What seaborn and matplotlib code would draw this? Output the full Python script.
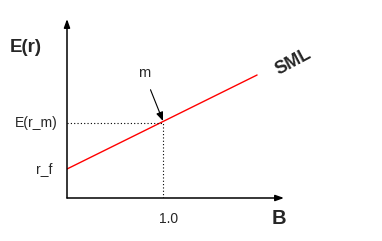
import matplotlib
matplotlib.use("Agg")
import matplotlib.pyplot as plt
import seaborn as sns
import pandas as pd

# Data
sml_beta = [0.0, 1.98]
sml_return = [2.9, 12.3]
market_beta = 1.0
market_return = 7.5
risk_free = 2.9
x_tick_label = "1.0"
y_labels = ["r_f", "E(r_m)"]

sns.set_style("white")
plt.rcParams['font.family'] = ['Liberation Sans', 'DejaVu Sans']

fig = plt.figure(figsize=(3.82, 2.41), dpi=100)
ax = fig.add_axes([67/382, 43/241, 217/382, 179/241])
ax.set_xlim(0, 217/96)
ax.set_ylim(0, 17.9)
for s in ax.spines.values():
    s.set_visible(False)
ax.set_xticks([])
ax.set_yticks([])
ax.patch.set_alpha(0)

df = pd.DataFrame({"beta": sml_beta, "ret": sml_return})
sns.lineplot(data=df, x="beta", y="ret", ax=ax, color="red", linewidth=1.0)
ax.set_xlabel("")
ax.set_ylabel("")

# axes arrows
arrow_kw = dict(arrowstyle="-|>,head_length=0.5,head_width=0.18", color="black", lw=1.1,
                shrinkA=0, shrinkB=0)
ax.annotate("", xy=(0, 1), xytext=(0, 0), xycoords="axes fraction",
            textcoords="axes fraction", arrowprops=arrow_kw, annotation_clip=False)
ax.annotate("", xy=(1, 0), xytext=(0, 0), xycoords="axes fraction",
            textcoords="axes fraction", arrowprops=arrow_kw, annotation_clip=False)

# dotted guides
ax.plot([0, market_beta], [market_return, market_return], linestyle=(0, (1, 2)), color="black", lw=0.8)
ax.plot([market_beta, market_beta], [0, market_return], linestyle=(0, (1, 2)), color="black", lw=0.8)

# m annotation
ax.annotate("m", xy=(market_beta, market_return + 0.2), xytext=(0.80, 12.5),
            ha="center", va="center", fontsize=10.5,
            arrowprops=dict(arrowstyle="-|>,head_length=0.5,head_width=0.2", color="black", lw=0.8,
                            shrinkA=5, shrinkB=0))

# tick-like labels
ax.text(-0.094, market_return, y_labels[1], ha="right", va="center", fontsize=10, clip_on=False)
ax.text(-0.156, risk_free, y_labels[0], ha="right", va="center", fontsize=10, clip_on=False)
ax.text(1.0625, -2.1, x_tick_label, ha="center", va="center", fontsize=10, clip_on=False)

# axis titles
fig.text(26/382, 1 - 47/241, "E(r)", ha="center", va="center", fontsize=13.5, fontweight="bold")
fig.text(279/382, 1 - 219/241, "B", ha="center", va="center", fontsize=14.5, fontweight="bold")
fig.text(293/382, 1 - 62/241, "SML", ha="center", va="center", fontsize=13, fontweight="bold",
         rotation=28)

fig.savefig("out.png", dpi=100)
